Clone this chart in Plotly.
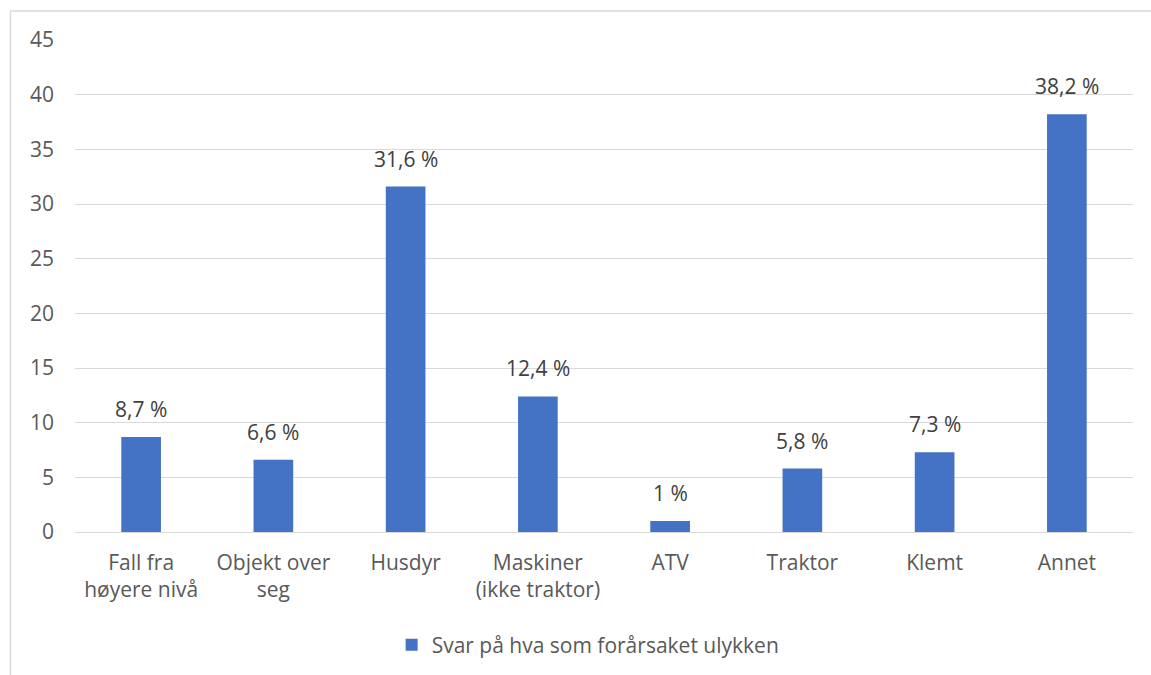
import plotly.graph_objects as go

categories = ['Fall fra<br>høyere nivå', 'Objekt over<br>seg', 'Husdyr', 'Maskiner<br>(ikke traktor)',
              'ATV', 'Traktor', 'Klemt', 'Annet']
values = [8.7, 6.6, 31.6, 12.4, 1, 5.8, 7.3, 38.2]
labels = [f'{v:g}'.replace('.', ',') + ' %' for v in values]
y_ticks = [0, 5, 10, 15, 20, 25, 30, 35, 40, 45]

fig = go.Figure()
fig.add_trace(go.Bar(
    x=categories,
    y=values,
    marker=dict(color='#4472C4', line=dict(width=0)),
    name='Svar på hva som forårsaket ulykken',
))

# value labels above the bars (annotations so the gap can be set)
for cat, val, lab in zip(categories, values, labels):
    fig.add_annotation(x=cat, y=val, text=lab, showarrow=False, yanchor='bottom', yshift=12,
                       font=dict(size=21, color='#404040'))

fig.update_layout(
    width=1151, height=675,
    margin=dict(l=75, r=18, t=40, b=143, autoexpand=False),
    plot_bgcolor='white', paper_bgcolor='white',
    font=dict(family='Open Sans', size=21, color='#595959'),
    bargap=0.7,
    showlegend=True,
    legend=dict(orientation='h', x=0.485, xanchor='center', y=-0.23, yanchor='middle',
                itemwidth=30, font=dict(size=21, color='#595959')),
    xaxis=dict(showgrid=False, showline=False, ticks='', ticklabelstandoff=16, automargin=False),
    yaxis=dict(range=[0, 45], tickvals=y_ticks, showgrid=True, gridcolor='#D9D9D9',
               zeroline=True, zerolinecolor='#D9D9D9', zerolinewidth=1,
               showline=False, ticks='', ticklabelstandoff=20, automargin=False),
    shapes=[
        dict(type='line', xref='paper', yref='paper', x0=-0.061, x1=-0.061, y0=-0.4, y1=1.059,
             line=dict(color='#D9D9D9', width=1.5), layer='below'),
        dict(type='line', xref='paper', yref='paper', x0=-0.061, x1=1.1, y0=1.059, y1=1.059,
             line=dict(color='#D9D9D9', width=1.5), layer='below'),
    ],
)

# drop the default page margin so the figure fills the window
fig.write_html('out.html', config={'displayModeBar': False},
               post_script="document.body.style.margin='0px';")
